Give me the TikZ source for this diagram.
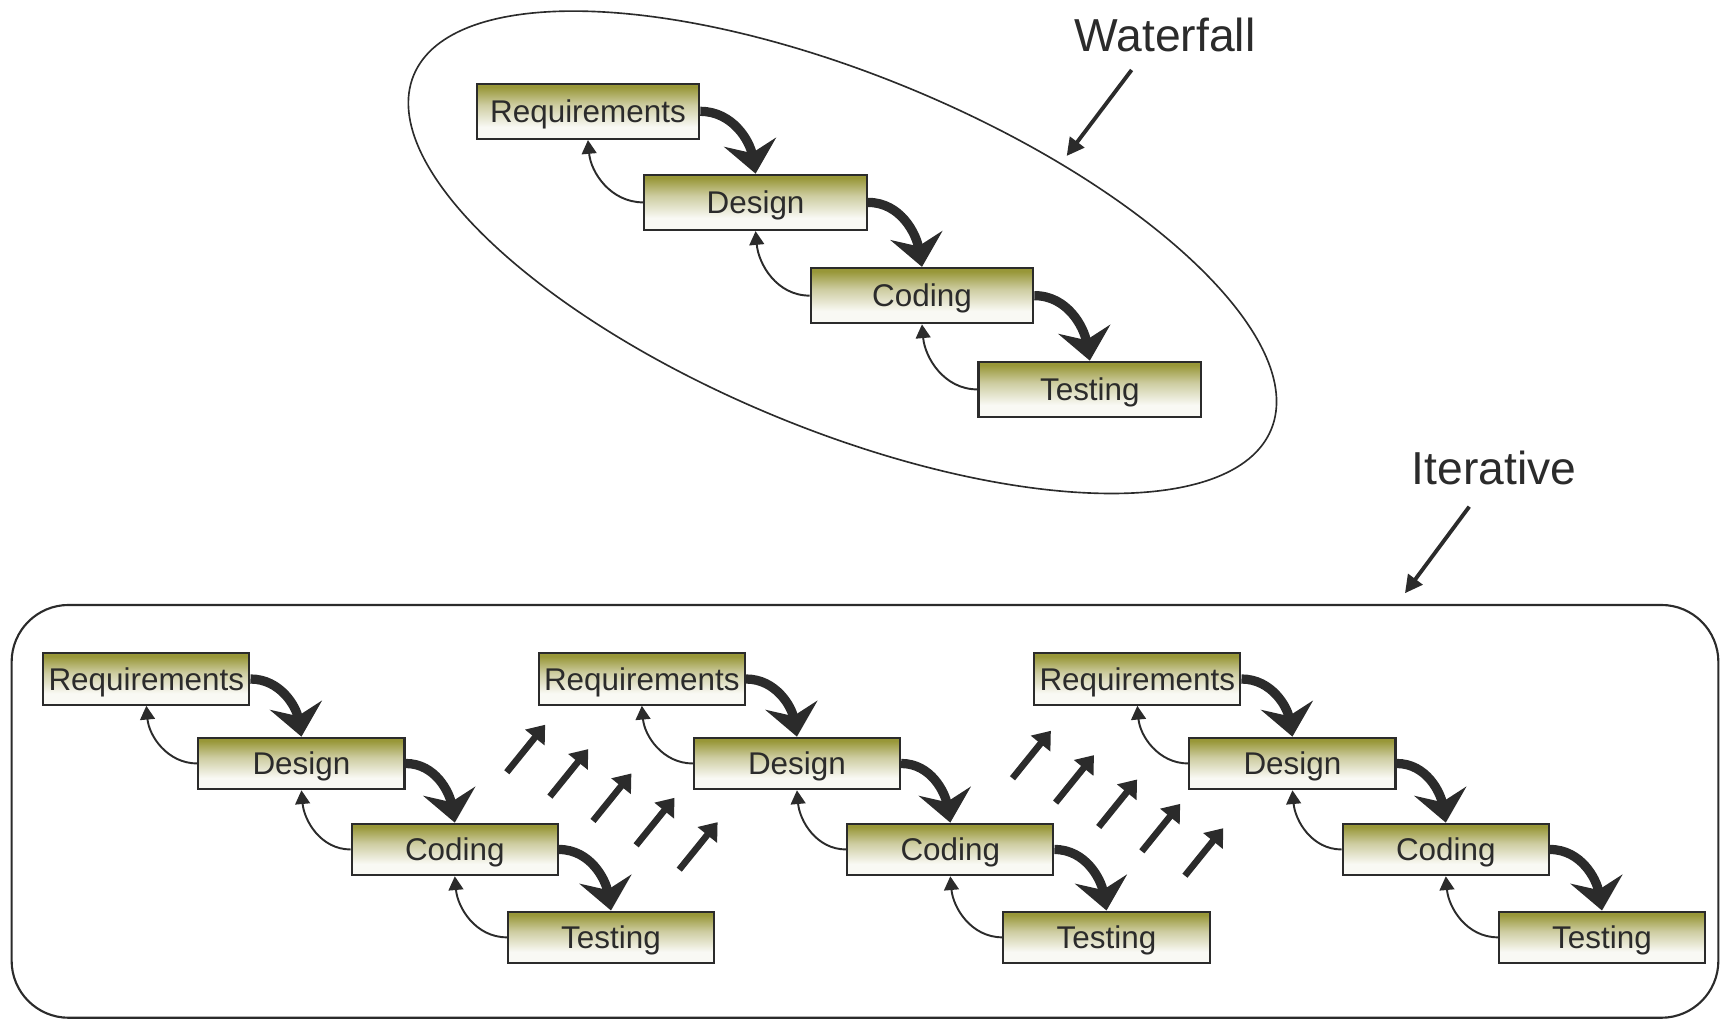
\documentclass[tikz,border=0pt]{standalone}
\usepackage{fontspec}
\setmainfont{Liberation Sans}
\usetikzlibrary{arrows.meta}

\definecolor{olivetop}{RGB}{152,151,56}
\definecolor{olivemid}{RGB}{205,204,160}
\definecolor{olivelight}{RGB}{249,249,244}
\definecolor{ink}{RGB}{43,43,43}
\pgfdeclareverticalshading{olivefade}{100bp}{color(0bp)=(olivelight); color(36bp)=(olivelight); color(56bp)=(olivemid); color(72bp)=(olivetop); color(100bp)=(olivetop)}

\tikzset{
	phase/.style={draw=ink, line width=1.1pt, shade, shading=olivefade, text=ink,
		font=\fontsize{16.3}{19}\selectfont, inner sep=0pt, text height=11.7pt, text depth=0pt},
	wfphase/.style={phase, minimum width=4.06cm, minimum height=1.01cm},
	itphase/.style={phase, minimum width=3.76cm, minimum height=0.94cm},
	flowarrow/.style={ink, line width=4.8pt, -{Stealth[length=0.58cm,width=0.96cm,inset=0.2cm]}},
	backarrow/.style={ink, line width=1pt, -{Triangle[length=0.25cm,width=0.27cm]}},
	carryarrow/.style={ink, line width=3.4pt, -{Triangle[length=0.3cm,width=0.44cm]}},
	pointer/.style={ink, line width=2pt, -{Triangle[length=0.32cm,width=0.32cm]}},
	groupline/.style={ink, line width=1.1pt},
	tag/.style={text=ink, font=\fontsize{24}{28}\selectfont, inner sep=0pt, text height=17.2pt, text depth=0pt}
}

\begin{document}
\begin{tikzpicture}[x=0.02cm, y=0.02cm]
	\useasboundingbox (0,0) rectangle (1568,-929);

	% Waterfall
	\draw[groupline, line width=0.85pt, rotate around={-22.45:(768,-230)}] (768,-230) ellipse [x radius=8.46cm, y radius=3.23cm];
	\node[wfphase] (wreq) at (536,-101.5) {Requirements};
	\node[wfphase] (wdes) at (688.8,-184.5) {Design};
	\node[wfphase] (wcod) at (840.5,-269.5) {Coding};
	\node[wfphase] (wtst) at (993.5,-355) {Testing};
	\foreach \a/\b in {wreq/wdes, wdes/wcod, wcod/wtst} {
		\draw[flowarrow] (\a.east) to[out=0,in=100] (\b.north);
		\draw[backarrow] (\b.west) to[out=180,in=-85] (\a.south);
	}

	% Iterative
	\draw[groupline, rounded corners=1.04cm] (10.6,-551.5) rectangle (1566.5,-927.8);
	\foreach \s in {0,1,2} {
		\begin{scope}[xshift=\s*9.036cm]
			\node[itphase] (ireq\s) at (133.4,-619) {Requirements};
			\node[itphase] (ides\s) at (274.8,-696) {Design};
			\node[itphase] (icod\s) at (414.6,-774.4) {Coding};
			\node[itphase] (itst\s) at (557,-854.5) {Testing};
		\end{scope}
		\foreach \a/\b in {ireq/ides, ides/icod, icod/itst} {
			\draw[flowarrow] (\a\s.east) to[out=0,in=100] (\b\s.north);
			\draw[backarrow] (\b\s.west) to[out=180,in=-85] (\a\s.south);
		}
	}
	\foreach \gx/\gy in {462/-704, 923/-709.5}
		\foreach \k in {0,...,4}
			\draw[carryarrow] ({\gx+39.3*\k},{\gy-22.2*\k}) -- ++(35,43.3);

	% labels
	\node[tag] (wflabel) at (1062,-31.9) {Waterfall};
	\node[tag] (itlabel) at (1362.1,-426.2) {Iterative};
	\coordinate (wftail) at (1031.6,-63.8);
	\coordinate (wfhead) at (972.4,-142.2);
	\coordinate (ittail) at (1339.4,-461.9);
	\coordinate (ithead) at (1280.8,-540.8);
	\draw[pointer] (wftail) -- (wfhead);
	\draw[pointer] (ittail) -- (ithead);
\end{tikzpicture}
\end{document}
